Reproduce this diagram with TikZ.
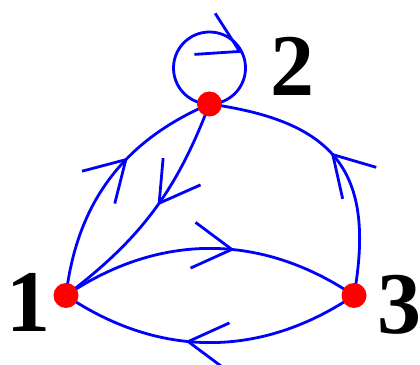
\documentclass[tikz,border=0pt]{standalone}
\usepackage{fontspec}
\setmainfont{Liberation Serif}
\usetikzlibrary{arrows.meta, decorations.markings}

\tikzset{
    barb/.tip={Straight Barb[length=39pt,width=46pt]},
    edge/.style={blue, line width=2.8pt},
    mid/.style={postaction={decorate, decoration={markings,
        mark=at position #1 with {\arrow{barb}}}}},
    loopmid/.style={postaction={decorate, decoration={markings,
        mark=at position #1 with {\pgftransformrotate{38}\arrow{barb}}}}},
    dot/.style={circle, fill=red, minimum size=25pt, inner sep=0pt},
    lbl/.style={font=\fontsize{88}{88}\selectfont\bfseries, inner sep=0pt}
}

\begin{document}
\begin{tikzpicture}[x=1pt,y=1pt]
\useasboundingbox (0,0) rectangle (420,364);

\coordinate (v1) at (66,68.5);
\coordinate (v2) at (209.5,260);
\coordinate (v3) at (354,68.5);

% edges
\draw[edge, mid=0.61] (v1) to[bend left=30] (v2);
\draw[edge, mid=0.47] (v2) to[bend left=16] (v1);
\draw[edge, mid=0.53] (v3) to[out=80, in=-8, looseness=1.35] (v2);
\draw[edge, mid=0.58] (v1) to[bend left=34] (v3);
\draw[edge, mid=0.58] (v3) to[bend left=34] (v1);
\draw[edge, loopmid=0.68] (v2) arc[start angle=-90, end angle=-450, radius=36pt];

% vertices
\node[dot] (d1) at (v1) {};
\node[dot] (d2) at (v2) {};
\node[dot] (d3) at (v3) {};

\node[lbl] (l1) at (28,61.3) {1};
\node[lbl] (l2) at (292.7,297.5) {2};
\node[lbl] (l3) at (399,59.5) {3};
\end{tikzpicture}
\end{document}
